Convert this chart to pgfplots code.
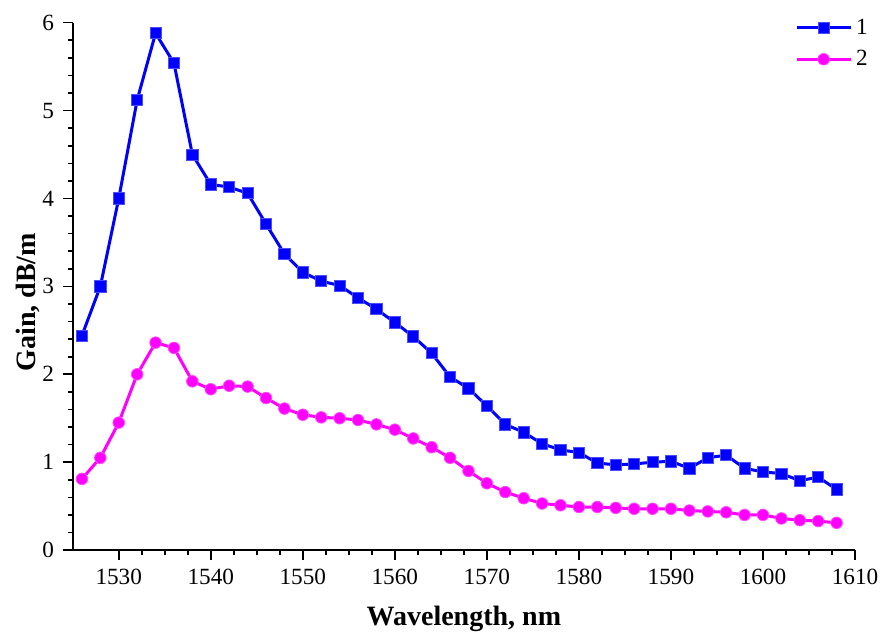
\documentclass[border=0pt]{standalone}
\usepackage{fontspec}
\setmainfont{Liberation Serif}
\usepackage{pgfplots}
\pgfplotsset{compat=1.18}
\definecolor{cblue}{RGB}{0,0,255}
\definecolor{cmag}{RGB}{255,0,255}
\begin{document}
\begin{tikzpicture}
\begin{axis}[
  scale only axis,
  width=391pt, height=263.6pt,
  xmin=1525, xmax=1610, ymin=0, ymax=6,
  axis lines*=left,
  axis line style={line width=0.9pt, -},
  xtick={1530,1540,1550,1560,1570,1580,1590,1600,1610},
  xticklabels={1530,1540,1550,1560,1570,1580,1590,1600,1610},
  ytick={0,1,2,3,4,5,6},
  yticklabels={0,1,2,3,4,5,6},
  minor x tick num=3,
  minor y tick num=4,
  tick align=outside,
  major tick length=4.8pt,
  minor tick length=2.6pt,
  tick style={line width=0.8pt, black},
  tick label style={font=\fontsize{11.6}{13}\selectfont\rmfamily},
  xticklabel style={yshift=-1pt},
  yticklabel style={xshift=-1pt},
  xlabel={\textbf{Wavelength, nm}},
  ylabel={\textbf{Gain, dB/m}},
  label style={font=\fontsize{14}{16}\selectfont},
  xlabel style={at={(axis description cs:0.5,0)}, anchor=base, yshift=-37.5pt},
  ylabel style={at={(axis description cs:-0.0572,0.47)}, anchor=center},
  legend style={at={(1.0245,1.0196)}, anchor=north east, draw=none, fill=none,
    font=\fontsize{11.6}{13}\selectfont, row sep=2.5pt, inner sep=1pt},
  legend cell align=left,
  legend image code/.code={\draw[mark repeat=2,mark phase=2] plot coordinates {(0pt,0pt)(13.5pt,0pt)(27pt,0pt)};},
  clip=false,
]
\addplot[cblue, line width=1.5pt, mark=square*, mark size=2.8pt, mark options={solid, fill=cblue, draw=cblue!70!white, line width=0.4pt}] coordinates {
(1526,2.44)(1528,3.00)(1530,4.00)(1532,5.12)(1534,5.88)(1536,5.54)(1538,4.50)(1540,4.16)
(1542,4.13)(1544,4.06)(1546,3.71)(1548,3.37)(1550,3.16)(1552,3.06)(1554,3.01)(1556,2.87)
(1558,2.74)(1560,2.59)(1562,2.43)(1564,2.24)(1566,1.97)(1568,1.84)(1570,1.64)(1572,1.43)
(1574,1.34)(1576,1.21)(1578,1.14)(1580,1.11)(1582,0.99)(1584,0.97)(1586,0.98)(1588,1.00)
(1590,1.01)(1592,0.93)(1594,1.05)(1596,1.08)(1598,0.93)(1600,0.89)(1602,0.87)(1604,0.79)
(1606,0.83)(1608,0.69)};
\addlegendentry{1}
\addplot[cmag, line width=1.5pt, mark=*, mark size=2.9pt, mark options={solid, fill=cmag, draw=cmag!70!white, line width=0.4pt}] coordinates {
(1526,0.81)(1528,1.05)(1530,1.45)(1532,2.00)(1534,2.36)(1536,2.30)(1538,1.92)(1540,1.83)
(1542,1.87)(1544,1.86)(1546,1.73)(1548,1.61)(1550,1.54)(1552,1.51)(1554,1.50)(1556,1.48)
(1558,1.43)(1560,1.37)(1562,1.27)(1564,1.17)(1566,1.05)(1568,0.90)(1570,0.76)(1572,0.66)
(1574,0.59)(1576,0.53)(1578,0.51)(1580,0.49)(1582,0.49)(1584,0.48)(1586,0.47)(1588,0.47)
(1590,0.47)(1592,0.45)(1594,0.44)(1596,0.43)(1598,0.40)(1600,0.40)(1602,0.36)(1604,0.34)
(1606,0.33)(1608,0.31)};
\addlegendentry{2}
\end{axis}
\pgfresetboundingbox
\path ([shift={(-36.35pt,-42pt)}]current axis.south west) rectangle ([shift={(14pt,11.35pt)}]current axis.north east);
\end{tikzpicture}
\end{document}
